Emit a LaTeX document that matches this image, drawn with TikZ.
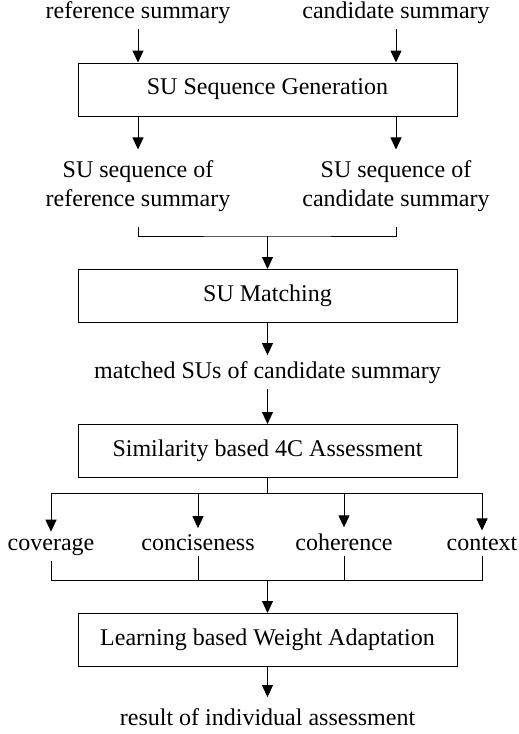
\documentclass[tikz,border=0pt]{standalone}
\usepackage{fontspec}
\setmainfont{Liberation Serif}
\usepackage{tikz}
\usetikzlibrary{arrows.meta,positioning,calc}

\begin{document}
\begin{tikzpicture}[
    x=1pt, y=-1pt,
    stage/.style={draw, line width=1pt, minimum width=379pt, minimum height=53pt, inner sep=0pt, font=\fontsize{24}{29}\selectfont},
    txt/.style={inner sep=0pt, outer sep=6pt, align=center, font=\fontsize{24}{29}\selectfont},
    arr/.style={-{Triangle[length=12pt, width=11pt]}, line width=1pt},
    wire/.style={line width=1pt}
]
\useasboundingbox (0,0) rectangle (519,734);

% inputs
\node[txt, anchor=base] (ref) at (138,18) {reference summary};
\node[txt, anchor=base] (cand) at (396,18) {candidate summary};

\node[stage] (gen) at (267.5,89.5) {SU Sequence Generation};

\node[txt, outer sep=11pt] (seqref) at (138,186) {SU sequence of\\reference summary};
\node[txt, outer sep=11pt] (seqcand) at (396,186) {SU sequence of\\candidate summary};

\node[stage] (match) at (267.5,296) {SU Matching};
\node[txt, anchor=base] (matched) at (267.5,378) {matched SUs of candidate summary};

\node[stage] (sim) at (267.5,451) {Similarity based 4C Assessment};

% the four criteria
\node[txt, anchor=base] (cov) at (51,550) {coverage};
\node[txt, anchor=base] (conc) at (198,550) {conciseness};
\node[txt, anchor=base] (coh) at (344,550) {coherence};
\node[txt, anchor=base] (ctx) at (482,550) {context};

\node[stage] (weight) at (267.5,640) {Learning based Weight Adaptation};
\node[txt, anchor=base, outer sep=11pt] (result) at (267.5,725) {result of individual assessment};

\coordinate (join) at (267.5,236);
\coordinate (split) at (267.5,493);
\coordinate (merge) at (267.5,580);

\draw[arr] (ref) -- (ref |- gen.north);
\draw[arr] (cand) -- (cand |- gen.north);
\draw[arr] (gen.south -| seqref) -- (seqref);
\draw[arr] (gen.south -| seqcand) -- (seqcand);

\draw[wire] ([yshift=-4pt]seqref.south) |- (join) -| ([yshift=-4pt]seqcand.south);
\draw[arr] (join) -- (match);
\draw[arr] (match) -- (matched);
\draw[arr] (matched) -- (sim);

\draw[wire] (sim) -- (split);
\draw[arr] (split) -| (cov);
\draw[arr] (split) -| (conc);
\draw[arr] (split) -| (coh);
\draw[arr] (split) -| (ctx);

\draw[wire] (cov) |- (merge);
\draw[wire] (conc) |- (merge);
\draw[wire] (coh) |- (merge);
\draw[wire] (ctx) |- (merge);
\draw[arr] (merge) -- (weight);
\draw[arr] (weight) -- (result);
\end{tikzpicture}
\end{document}
